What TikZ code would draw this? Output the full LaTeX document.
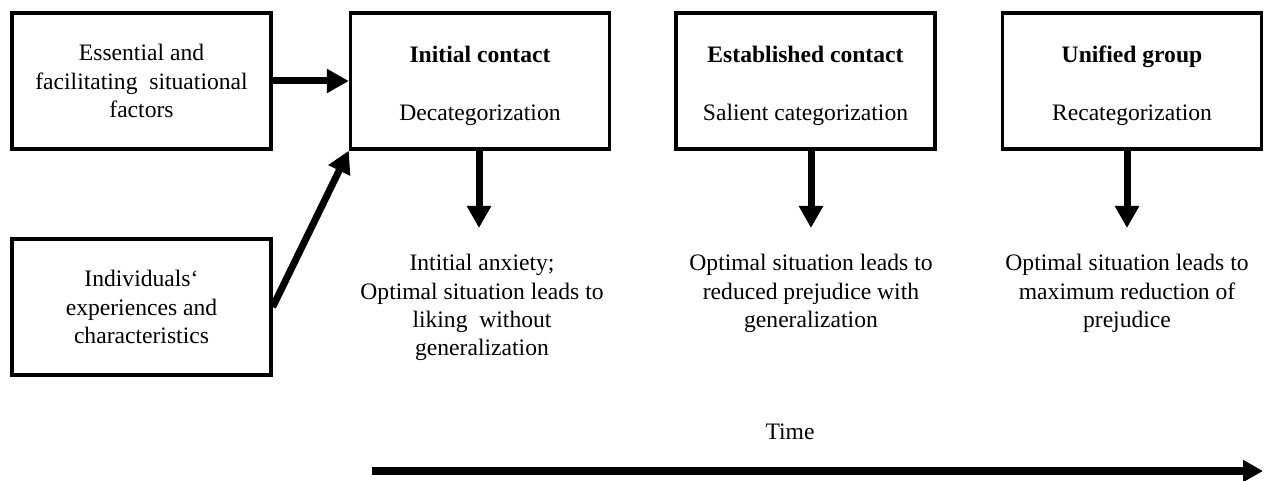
\documentclass[tikz,border=0pt]{standalone}
\usepackage{fontspec}
\setmainfont{Liberation Serif}
\usetikzlibrary{arrows.meta}
\begin{document}
\begin{tikzpicture}[x=0.5pt,y=-0.5pt,
  every node/.style={font=\fontsize{11.8}{14.2}\selectfont, inner sep=0pt},
  box/.style={draw, line width=1.7pt, minimum width=129.5pt, minimum height=68pt, align=center},
  lbl/.style={align=center},
  arr/.style={line width=3.5pt, -{Triangle[length=11pt,width=11.5pt]}},
  timearr/.style={line width=4pt, -{Triangle[length=10pt,width=10.5pt]}}
]
\useasboundingbox (0,0) rectangle (1270,481);
\node[box] (b1) at (141.5,81) {Essential and\\facilitating\ \ situational\\factors};
\node[box] (b2) at (480,81) {\rule{0pt}{13pt}\textbf{Initial contact}\\[14.5pt]Decategorization};
\node[box] (b3) at (805.5,81) {\rule{0pt}{13pt}\textbf{Established contact}\\[14.5pt]Salient\ categorization};
\node[box] (b4) at (1132,81) {\rule{0pt}{13pt}\textbf{Unified group}\\[14.5pt]Recategorization};
\node[box] (b5) at (141.5,307) {Individuals‘\\experiences and\\characteristics};
\coordinate (tip1) at (479,228);
\coordinate (tip2) at (811,228);
\coordinate (tip3) at (1127,228);
\node[lbl, anchor=north] (t1) at (482,254) {Intitial anxiety;\\Optimal situation leads to\\liking\ \ without\\generalization};
\node[lbl, anchor=north] (t2) at (811,254) {Optimal situation leads to\\reduced prejudice with\\generalization};
\node[lbl, anchor=north] (t3) at (1127,254) {Optimal situation leads to\\maximum reduction of\\prejudice};
\draw[arr] (b1.east) -- (b2.west);
\draw[arr] (b5.east) -- (b2.south west);
\draw[arr] (b2.south -| tip1) -- (tip1);
\draw[arr] (b3.south -| tip2) -- (tip2);
\draw[arr] (b4.south -| tip3) -- (tip3);
\node (time) at (790,432) {Time};
\coordinate (ts) at (372,471);
\coordinate (te) at (1263,471);
\draw[timearr] (ts) -- (te);
\end{tikzpicture}
\end{document}
